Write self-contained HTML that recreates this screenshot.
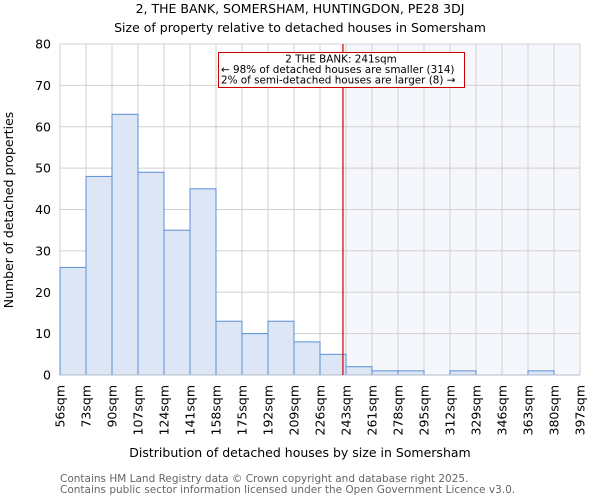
<!DOCTYPE html>
<html><head><meta charset="utf-8"><style>
body{margin:0;background:#fff;font-family:"DejaVu Sans","Liberation Sans",sans-serif}
</style></head><body>
<svg id="chart" width="600" height="500" xmlns="http://www.w3.org/2000/svg" font-family="DejaVu Sans, Liberation Sans, sans-serif">
<text x="300" y="13" text-anchor="middle" font-size="12.5">2, THE BANK, SOMERSHAM, HUNTINGDON, PE28 3DJ</text>
<text x="300" y="32" text-anchor="middle" font-size="12.5">Size of property relative to detached houses in Somersham</text>
<g id="plot"></g>
<text x="300" y="457" text-anchor="middle" font-size="12.5">Distribution of detached houses by size in Somersham</text>
<text transform="translate(13,210) rotate(-90)" text-anchor="middle" font-size="12.5">Number of detached properties</text>
<text x="60" y="482" font-size="10.5" fill="#666">Contains HM Land Registry data © Crown copyright and database right 2025.</text>
<text x="60" y="493" font-size="10.5" fill="#666">Contains public sector information licensed under the Open Government Licence v3.0.</text>
</svg>
<script>
const binLabels=["56sqm","73sqm","90sqm","107sqm","124sqm","141sqm","158sqm","175sqm","192sqm","209sqm","226sqm","243sqm","261sqm","278sqm","295sqm","312sqm","329sqm","346sqm","363sqm","380sqm","397sqm"];
const counts=[26,48,63,49,35,45,13,10,13,8,5,2,1,1,0,1,0,0,1,0];
const yTicks=[0,10,20,30,40,50,60,70,80];
const markerValue=241;
const binStart=56, binStep=17.0;
const L=60,R=580,T=44,B=375,yMax=80;
const n=counts.length, bw=(R-L)/n;
const x=v=>L+(v-binStart)/binStep*bw;
const xi=i=>L+i*bw;
const y=v=>B-(v/yMax)*(B-T);
const NS="http://www.w3.org/2000/svg";
const g=document.getElementById('plot');
function mk(t,a,p){const e=document.createElementNS(NS,t);for(const k in a)e.setAttribute(k,a[k]);(p||g).appendChild(e);return e;}
const mx=x(markerValue);
const sh=mk('rect',{x:mx,y:T,width:R-mx,height:B-T,fill:'#f5f7fd'});


for(let i=0;i<=n;i++){const l=mk('line',{x1:xi(i),x2:xi(i),y1:T,y2:B,stroke:'#d0d0d0','stroke-width':1});

}
yTicks.forEach(v=>{const l=mk('line',{x1:L,x2:R,y1:y(v),y2:y(v),stroke:'#d0d0d0','stroke-width':1});


const t=mk('text',{x:L-9,y:y(v)+4.5,'text-anchor':'end','font-size':12.5});t.textContent=v;

});
counts.forEach((c,i)=>{if(c<=0)return;const r=mk('rect',{x:xi(i),y:y(c),width:bw,height:B-y(c),fill:'#dce6f4',stroke:'#5b8fd6','stroke-width':1});

});
const ax=mk('line',{x1:L,x2:R,y1:B,y2:B,stroke:'#b0b8c8','stroke-width':1});


binLabels.forEach((s,i)=>{const t=mk('text',{transform:`translate(${xi(i)+4.5},385) rotate(-90)`,'text-anchor':'end','font-size':12.5});t.textContent=s;

});
const ml=mk('line',{x1:mx,x2:mx,y1:T,y2:B,stroke:'#cc0000','stroke-width':1.2});


const box=mk('rect',{x:218.5,y:52.5,width:246,height:35,fill:'#fff',stroke:'#cc0000','stroke-width':1});


["2 THE BANK: 241sqm","← 98% of detached houses are smaller (314)","2% of semi-detached houses are larger (8) →"].forEach((s,i)=>{
const t=mk('text',{x:i==0?341:221,y:62.5+i*10.5,'text-anchor':i==0?'middle':'start','font-size':10.4});t.textContent=s;

});
</script>
</body></html>
